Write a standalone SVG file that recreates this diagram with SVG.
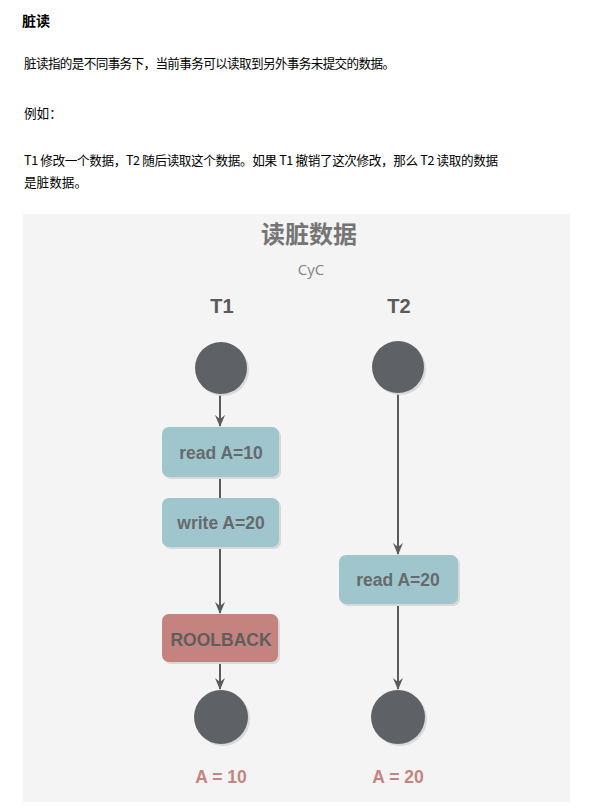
<svg xmlns="http://www.w3.org/2000/svg" width="589" height="811" viewBox="0 0 589 811">
<style>
.hdr{font-family:"Noto Sans CJK SC","Noto Sans",sans-serif;fill:#000000;font-size:12.6px}
.lbl{font-family:"Liberation Sans",Arial,sans-serif;font-weight:bold;text-anchor:middle}
.box{fill:#9fc6cd}
.rb{fill:#c4837e}
.sh{fill:#d9d9d9}
.dot{fill:#5e6165}
.btxt{font-size:17.5px;fill:#666a6d}
.conn line{stroke:#5b5b5b;stroke-width:2}
</style>
<defs>
<marker id="ah" viewBox="0 0 12 12" markerWidth="12" markerHeight="12" refX="11" refY="6" orient="auto" markerUnits="userSpaceOnUse">
<path d="M0,1 L12,6 L0,11 L4,6 z" fill="#5b5b5b"/>
</marker>
</defs>
<rect width="589" height="811" fill="#ffffff"/>
<g id="header">
<text x="22" y="26" class="hdr" style="font-size:14px;font-weight:bold">脏读</text>
<text x="24" y="68" class="hdr" textLength="371" lengthAdjust="spacing">脏读指的是不同事务下，当前事务可以读取到另外事务未提交的数据。</text>
<text x="24" y="118" class="hdr">例如：</text>
<text x="24" y="165" class="hdr" textLength="474" lengthAdjust="spacing">T1 修改一个数据，T2 随后读取这个数据。如果 T1 撤销了这次修改，那么 T2 读取的数据</text>
<text x="24" y="187" class="hdr">是脏数据。</text>
</g>
<rect id="panel" x="23" y="214" width="547" height="588" fill="#f4f4f4"/>
<g id="titles">
<text x="309" y="243" class="lbl" style="font-family:'Noto Sans CJK SC','Noto Sans',sans-serif;font-size:24px;fill:#757575">读脏数据</text>
<text x="311" y="275" class="lbl" style="font-weight:normal;font-size:15px;fill:#858585;font-family:'Open Sans','Noto Sans',sans-serif">CyC</text>
<text x="222" y="313" class="lbl" style="font-size:20px;fill:#5a5a5a">T1</text>
<text x="399" y="313" class="lbl" style="font-size:20px;fill:#5a5a5a">T2</text>
</g>
<g class="conn" id="connectors">
<line x1="220" y1="394" x2="220" y2="426" marker-end="url(#ah)"/>
<line x1="220" y1="477" x2="220" y2="498"/>
<line x1="220" y1="547" x2="220" y2="613" marker-end="url(#ah)"/>
<line x1="220" y1="662" x2="220" y2="689" marker-end="url(#ah)"/>
<line x1="398" y1="393" x2="398" y2="554" marker-end="url(#ah)"/>
<line x1="398" y1="604" x2="398" y2="689" marker-end="url(#ah)"/>
</g>
<g id="t1-start"><circle cx="223" cy="370" r="26" class="sh"/><circle cx="221" cy="368" r="26" class="dot"/></g>
<g id="t2-start"><circle cx="400" cy="369" r="26" class="sh"/><circle cx="398" cy="367" r="26" class="dot"/></g>
<g id="read10"><rect x="164" y="429" width="117" height="50" rx="7" class="sh"/><rect x="162" y="427" width="117" height="50" rx="7" class="box"/><text x="221" y="459" class="lbl btxt">read A=10</text></g>
<g id="write20"><rect x="164" y="500" width="117" height="49" rx="7" class="sh"/><rect x="162" y="498" width="117" height="49" rx="7" class="box"/><text x="221" y="529" class="lbl btxt">write A=20</text></g>
<g id="rollback"><rect x="164" y="616" width="116" height="48" rx="7" class="sh"/><rect x="162" y="614" width="116" height="48" rx="7" class="rb"/><text x="221" y="646" class="lbl btxt" style="fill:#5e5e5e">ROOLBACK</text></g>
<g id="read20"><rect x="341" y="557" width="119" height="49" rx="7" class="sh"/><rect x="339" y="555" width="119" height="49" rx="7" class="box"/><text x="398" y="586" class="lbl btxt">read A=20</text></g>
<g id="t1-end"><circle cx="223" cy="719" r="27" class="sh"/><circle cx="221" cy="717" r="27" class="dot"/><text x="221" y="783" class="lbl" style="font-size:17.5px;fill:#c48480">A = 10</text></g>
<g id="t2-end"><circle cx="400" cy="719" r="27" class="sh"/><circle cx="398" cy="717" r="27" class="dot"/><text x="398" y="783" class="lbl" style="font-size:17.5px;fill:#c48480">A = 20</text></g>
</svg>
